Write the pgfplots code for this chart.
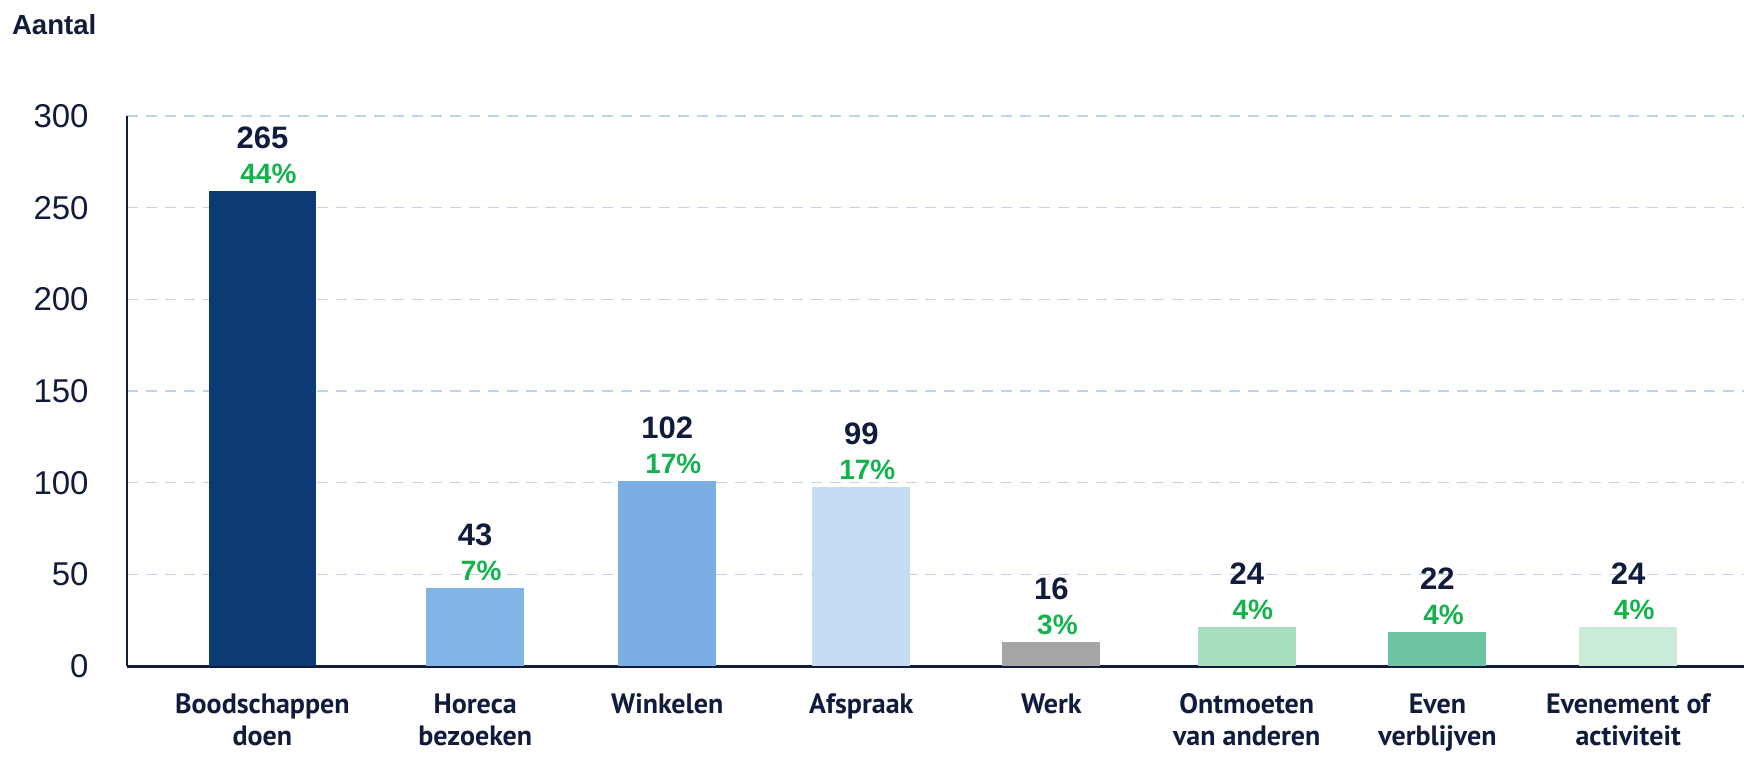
\documentclass[border=0pt]{standalone}
\usepackage{pgfplots}
\pgfplotsset{compat=1.18}
\usepackage{pgfplotstable}
\usepackage{fontspec}
\setmainfont{Liberation Sans}
\newfontfamily\catfont{PT Sans}
\definecolor{navy}{HTML}{111C3D}
\definecolor{pctgreen}{HTML}{14B24C}
\definecolor{gridc}{HTML}{BFD2EE}
\definecolor{c1}{HTML}{0B3A75}
\definecolor{c2}{HTML}{82B4E6}
\definecolor{c3}{HTML}{7BAFE3}
\definecolor{c4}{HTML}{C5DCF2}
\definecolor{c5}{HTML}{A6A6A6}
\definecolor{c6}{HTML}{A8DFC0}
\definecolor{c7}{HTML}{6CC4A0}
\definecolor{c8}{HTML}{C9EBD8}
\pgfplotstableread{
x h n p
-0.057 259 265 44
1.04 42.5 43 7
2.03 101 102 17
3.03 97.5 99 17
4.01 13 16 3
5.017 21.5 24 4
6 18.5 22 4
6.983 21.5 24 4
}\datatable
\begin{document}
\begin{tikzpicture}
\begin{axis}[
  scale only axis,
  width=808.5pt, height=275pt,
  xmin=-0.755, xmax=7.58,
  ymin=0, ymax=300,
  ytick={0,50,...,300},
  xtick={-0.057,1.04,2.03,3.03,4.01,5.017,6,6.983},
  xticklabels={{Boodschappen\\doen},{Horeca\\bezoeken},{Winkelen},{Afspraak},{Werk},{Ontmoeten\\van anderen},{Even\\verblijven},{Evenement of\\activiteit}},
  axis x line*=bottom, axis y line*=left,
  x axis line style={navy, line width=1.5pt, -},
  y axis line style={navy, line width=1pt, -},
  major tick length=0pt,
  ymajorgrids,
  grid style={gridc, line width=0.8pt, dash pattern=on 5.5pt off 4pt},
  /pgf/number format/assume math mode=true,
  yticklabel style={font=\fontsize{16.5}{18}\selectfont, text=navy, inner sep=0pt, xshift=-19pt},
  xticklabel style={font=\catfont\bfseries\fontsize{14}{16}\selectfont, text=navy, align=center, inner sep=0pt, yshift=-13.7pt},
  ylabel={Aantal},
  every axis y label/.style={at={(rel axis cs:0,1)}, anchor=west, xshift=-61pt, yshift=45.75pt, font=\bfseries\fontsize{13.8}{15}\selectfont, text=navy},
  ybar, bar width=49pt, bar shift=0pt,
  clip=false,
]
\addplot[fill=c1, draw=none, bar width=53.4pt] coordinates {(-0.057,259)};
\addplot[fill=c2, draw=none] coordinates {(1.04,42.5)};
\addplot[fill=c3, draw=none] coordinates {(2.03,101)};
\addplot[fill=c4, draw=none] coordinates {(3.03,97.5)};
\addplot[fill=c5, draw=none] coordinates {(4.01,13)};
\addplot[fill=c6, draw=none] coordinates {(5.017,21.5)};
\addplot[fill=c7, draw=none] coordinates {(6,18.5)};
\addplot[fill=c8, draw=none] coordinates {(6.983,21.5)};
\addplot[draw=none, fill=none, nodes near coords, point meta=explicit symbolic,
  every node near coord/.style={anchor=center, yshift=26.5pt, font=\bfseries\fontsize{15.5}{17}\selectfont, text=navy}]
  table[x=x, y=h, meta=n] {\datatable};
\addplot[draw=none, fill=none, nodes near coords={\pgfplotspointmeta\%}, point meta=explicit symbolic,
  every node near coord/.style={anchor=center, yshift=8.5pt, xshift=3pt, font=\bfseries\fontsize{14}{16}\selectfont, text=pctgreen}]
  table[x=x, y=h, meta=p] {\datatable};
\end{axis}
\pgfresetboundingbox
\path[use as bounding box] (-63.5pt,-47.5pt) rectangle (808.5pt,333pt);
\end{tikzpicture}
\end{document}
